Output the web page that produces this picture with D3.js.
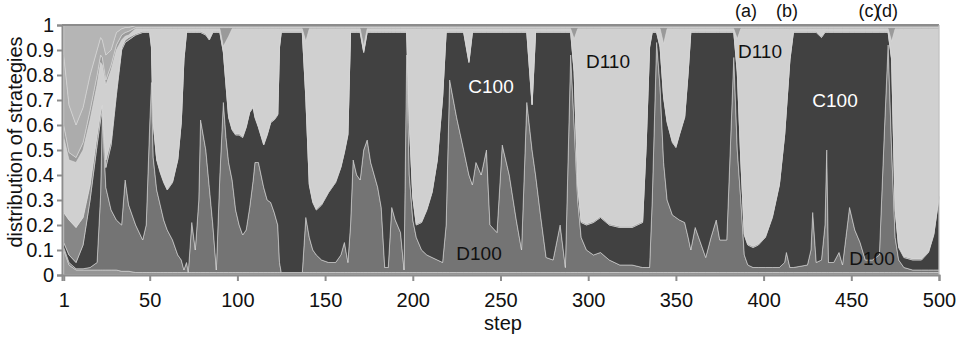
<!DOCTYPE html>
<html><head><meta charset="utf-8">
<script src="https://cdn.jsdelivr.net/npm/d3@7/dist/d3.min.js"></script>
<style>
body{margin:0;background:#fff;}
text{font-family:"Liberation Sans",Arial,sans-serif;}
</style></head>
<body><svg id="c" width="957" height="339"></svg>
<script>
const steps = [1,4,8,12,16,20,22,23,25,28,31,34,36,38,42,46,48,50,51,52,54,56,58,60,63,66,68,69.5,71,72,74,76,78,79,82,84,86,88,90,92,93.5,95,97,99,101,103,105,107,109,110,112,115,117,119,121,123,124,125,130,137,139,141,143,145,148,152,156,159,161,163,164.5,166,168,170,172,174,176,178,180,182,184,186,188,190,193,195,196.5,198,200,202,205,208,211,214,217,219,221,225,229,232,234,236,239,242,244,248,251,255,259,262,265,268,270,273,276,280,284,287,290,292,294,296,299,303,307,312,318,325,331,333,335,336.5,339,341,343,345,348,350,352,355,357,358.5,361,363,367,370,373,375,379,383,385,387,389,391,394,397,401,405,409,412,413,415,417,425,427,428,430,433,435,436,437,440,443,445,449,452,455,458,462,466,469,471,473,475,477,480,485,490,494,497,500];

const E = [.10,.04,.02,.02,.02,.02,.02,.02,.02,.02,.02,.015,.015,.015].concat(new Array(steps.length-14).fill(.01));

const D100 = [.01,.01,.005,.005,.01,.03,.30,.62,.33,.24,.20,.185,.365,.265,
.19,.13,.19,.59,.76,.46,.33,.27,.21,.17,.13,.07,.05,.01,.04,.00,.20,.09,.29,.61,.49,.34,.19,.01,.39,
.68,.54,.44,.37,.25,.19,.15,.17,.26,.37,.44,.44,.34,.29,.28,.24,.19,.04,.00,.00,.00,
.22,.14,.09,.07,.05,.04,.04,.07,.12,.04,.19,.45,.39,.37,.49,.53,.44,.39,.34,.26,.02,.02,.26,.21,.16,.01,.87,
.39,.21,.14,.09,.07,.06,.05,.04,.19,.77,.62,.49,.39,.35,.44,.39,.49,.19,.16,.51,.39,.21,.09,.68,.49,.39,.22,.06,.05,.19,.02,.87,
.59,.29,.14,.09,.07,.08,.05,.03,.03,.02,.02,.02,.29,.92,.74,.44,.29,.23,.22,.21,.20,.14,.09,.18,.14,.06,.14,.21,.13,.13,.86,
.49,.29,.07,.03,.02,.02,.02,.02,.02,.04,.08,.02,.02,.03,.09,.24,.04,.05,.19,.49,.04,.04,.08,.03,.26,.17,.12,.05,.05,.07,.59,.91,
.49,.14,.05,.02,.01,.01,.01,.01,.01];

const C100 = [.02,.03,.025,.095,.27,.47,.30,.02,.08,.26,.50,.70,.55,.66,
.76,.83,.77,.37,.14,.14,.12,.13,.15,.16,.23,.38,.55,.84,.92,.96,.76,.87,.67,.35,.46,.59,.77,.95,.57,
.20,.21,.18,.20,.30,.36,.39,.41,.38,.29,.18,.14,.17,.26,.32,.37,.44,.86,.96,.96,.96,
.48,.21,.19,.18,.22,.28,.32,.35,.36,.51,.77,.51,.57,.59,.39,.43,.52,.57,.62,.70,.94,.94,.70,.75,.80,.95,.09,
.21,.09,.05,.11,.18,.26,.40,.66,.77,.19,.34,.47,.45,.61,.52,.57,.47,.77,.80,.45,.57,.75,.87,.28,.18,.57,.74,.90,.91,.77,.94,.09,
.21,.06,.06,.10,.13,.14,.14,.15,.15,.18,.48,.88,.67,.04,.16,.26,.31,.29,.28,.34,.42,.66,.87,.78,.82,.90,.82,.75,.83,.83,.10,
.31,.16,.08,.08,.08,.09,.12,.20,.33,.51,.57,.83,.94,.93,.87,.72,.92,.89,.77,.47,.92,.92,.88,.93,.70,.79,.84,.91,.91,.89,.37,.05,
.36,.11,.05,.04,.04,.04,.07,.14,.29];

const F = [.12,.14,.14,.11,.06,.04,.03,.02,.03,.02,.02,.01,.01,.01].concat(new Array(steps.length-14).fill(.005));

const D110 = [.30,.24,.26,.27,.26,.20,.20,.16,.30,.28,.16,.03,.015,.01,
.02,.01,.01,.01,.07,.37,.52,.57,.61,.64,.61,.52,.37,.12,.01,.01,.01,.01,.01,.01,.02,.04,.01,.01,.01,
.02,.17,.32,.40,.42,.42,.43,.39,.33,.31,.35,.39,.46,.42,.37,.36,.34,.07,.01,.01,.01,
.22,.62,.69,.72,.70,.65,.61,.55,.49,.42,.01,.01,.01,.01,.02,.01,.01,.01,.01,.01,.01,.01,.01,.01,.01,.01,.01,
.37,.67,.78,.77,.72,.65,.52,.27,.01,.01,.01,.01,.13,.01,.01,.01,.01,.01,.01,.01,.01,.01,.01,.01,.30,.01,.01,.01,.01,.01,.01,.01,
.13,.62,.77,.78,.77,.75,.78,.79,.79,.77,.47,.07,.01,.01,.07,.21,.37,.45,.47,.42,.35,.17,.01,.01,.01,.01,.01,.01,.01,.01,.01,
.13,.52,.82,.86,.87,.86,.83,.75,.62,.42,.32,.12,.01,.01,.01,.01,.01,.03,.01,.01,.01,.01,.01,.01,.01,.01,.01,.01,.01,.01,.01,.01,
.07,.72,.87,.91,.92,.92,.89,.82,.67];

const Gbase = [.05,.03,.02,.03,.04,.04,.03,.03,.02,.02,.02,.02,.015,.015];
const Gnotch = {92:.075,93.5:.055,95:.035,139:.055,172:.075,292:.045,343:.065,385:.045,473:.055};
const G = steps.map((s,i) => i < 14 ? Gbase[i] : (Gnotch[s] ?? .005));
const K = [.28,.19,.13,.14,.14,.10,.07,.07,.10,.06,.05,.025,.02,.015].concat(new Array(steps.length-14).fill(.008));
const H = [.12,.32,.40,.33,.20,.10,.05,.06,.12,.10,.03,.015,.01,.01].concat(new Array(steps.length-14).fill(.002));

const keys = ["E","D100","C100","F","D110","G","K","H"];
const colors = {E:"#959595",D100:"#747474",C100:"#414141",F:"#878787",D110:"#d0d0d0",G:"#9a9a9a",K:"#acacac",H:"#b5b5b5"};
const series = {E,D100,C100,F,D110,G,K,H};
const rows = steps.map((s,i) => { const r = {step:s}; keys.forEach(k => r[k] = series[k][i]); return r; });

const yTicks = [0,0.1,0.2,0.3,0.4,0.5,0.6,0.7,0.8,0.9,1];
const xTicks = [1,50,100,150,200,250,300,350,400,450,500];

const svg = d3.select("#c");
const L = 62, R = 939, T = 25, B = 275;
const x = d3.scaleLinear().domain([0,500]).range([L,R]);
const y = d3.scaleLinear().domain([0,1]).range([B,T]);

const stacked = d3.stack().keys(keys)(rows);
const area = d3.area().x(d => x(d.data.step)).y0(d => y(d[0])).y1(d => y(Math.min(1,d[1])));

svg.append("g").selectAll("path").data(stacked).join("path")
  .attr("d", area)
  .attr("fill", d => colors[d.key])
  .attr("stroke", "#d6d6d6")
  .attr("stroke-width", 0.6)
  .attr("stroke-linejoin","round");

const gray = "#8c8c8c";
svg.append("line").attr("x1",L).attr("x2",R).attr("y1",T).attr("y2",T).attr("stroke",gray).attr("stroke-width",2);
svg.append("line").attr("x1",R).attr("x2",R).attr("y1",T).attr("y2",B).attr("stroke","#bdbdbd").attr("stroke-width",1);

const ya = svg.append("g").attr("transform",`translate(${L},0)`)
  .call(d3.axisLeft(y).tickValues(yTicks).tickFormat(d => d===0?"0":d===1?"1":d3.format(".1f")(d)).tickSize(5).tickPadding(3));
const xa = svg.append("g").attr("transform",`translate(0,${B})`)
  .call(d3.axisBottom(x).tickValues(xTicks).tickFormat(d3.format("d")).tickSize(6).tickPadding(12));
[ya,xa].forEach(g => {
  g.select(".domain").attr("stroke",gray).attr("stroke-width",2);
  g.selectAll(".tick line").attr("stroke",gray).attr("stroke-width",2);
  g.selectAll(".tick text").attr("font-size",20).attr("fill","#111").attr("font-family","Liberation Sans, Arial, sans-serif");
});

svg.append("text").attr("transform","translate(22,142) rotate(-90)").attr("text-anchor","middle")
  .attr("font-size",20).attr("fill","#111").text("distribution of strategies");
svg.append("text").attr("x",503).attr("y",330).attr("text-anchor","middle")
  .attr("font-size",20).attr("fill","#111").text("step");

const labels = [
  {t:"C100",x:491,y:93,c:"#fff"},
  {t:"D110",x:608,y:68,c:"#111"},
  {t:"D100",x:479,y:260,c:"#111"},
  {t:"D110",x:760,y:58,c:"#111"},
  {t:"C100",x:835,y:107,c:"#fff"},
  {t:"D100",x:872,y:265,c:"#111"}
];
svg.append("g").selectAll("text").data(labels).join("text")
  .attr("x",d=>d.x).attr("y",d=>d.y).attr("text-anchor","middle")
  .attr("font-size",19).attr("fill",d=>d.c).text(d=>d.t);

const notes = [{t:"(a)",x:746},{t:"(b)",x:787},{t:"(c)",x:869},{t:"(d)",x:887}];
svg.append("g").selectAll("text").data(notes).join("text")
  .attr("x",d=>d.x).attr("y",17).attr("text-anchor","middle")
  .attr("font-size",18).attr("fill","#111").text(d=>d.t);
</script></body></html>
